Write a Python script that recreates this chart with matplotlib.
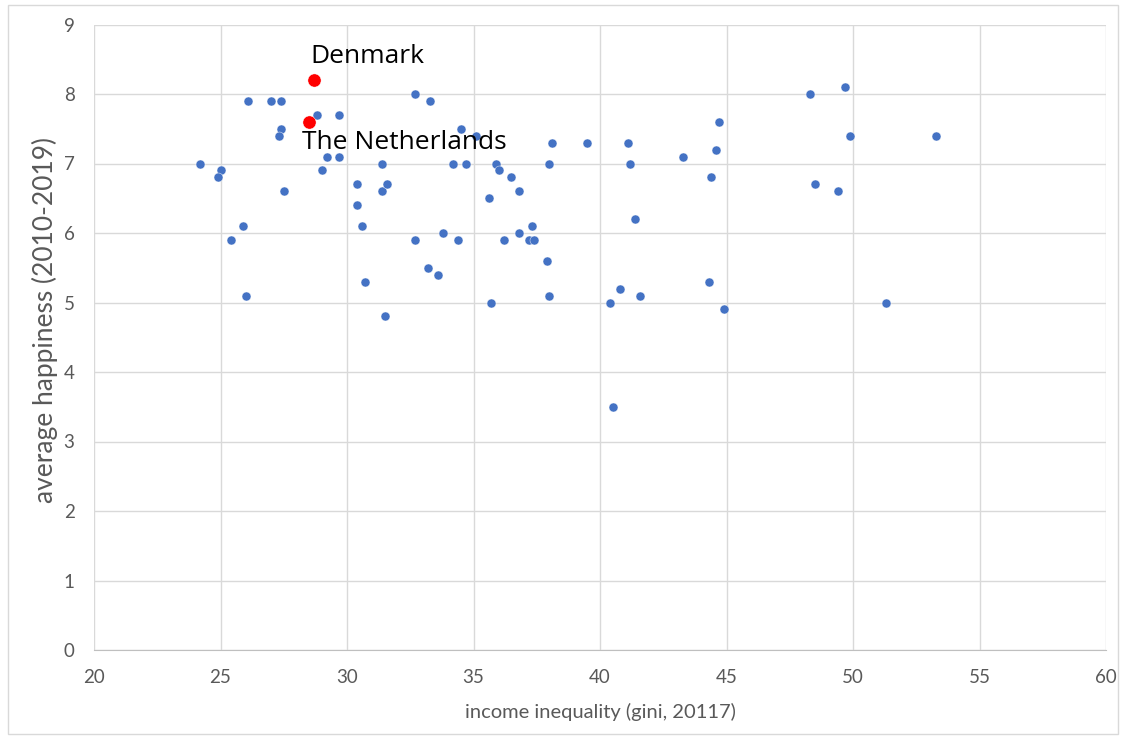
import matplotlib.pyplot as plt
from matplotlib.patches import Rectangle

# income inequality (gini) and average happiness per country
gini = [24.2, 25.0, 24.9, 25.4, 25.9, 26.0, 26.1, 27.0, 27.4, 27.4,
        27.3, 27.5, 28.8, 29.7, 29.2, 29.7, 29.0, 30.4, 30.4, 30.6,
        30.7, 31.4, 31.4, 31.6, 31.5, 32.7, 33.3, 32.7, 33.8, 33.2,
        33.6, 34.5, 35.1, 34.2, 34.7, 34.4, 35.9, 36.0, 36.5, 36.8,
        35.6, 36.2, 36.8, 37.3, 37.2, 37.4, 37.9, 38.0, 35.7, 38.1,
        38.0, 39.5, 41.1, 41.2, 41.4, 40.4, 40.8, 41.6, 40.5, 43.3,
        44.7, 44.6, 44.4, 44.3, 44.9, 48.3, 49.7, 49.9, 53.3, 48.5,
        49.4, 51.3]
happiness = [7.0, 6.9, 6.8, 5.9, 6.1, 5.1, 7.9, 7.9, 7.9, 7.5,
             7.4, 6.6, 7.7, 7.7, 7.1, 7.1, 6.9, 6.7, 6.4, 6.1,
             5.3, 7.0, 6.6, 6.7, 4.8, 8.0, 7.9, 5.9, 6.0, 5.5,
             5.4, 7.5, 7.4, 7.0, 7.0, 5.9, 7.0, 6.9, 6.8, 6.6,
             6.5, 5.9, 6.0, 6.1, 5.9, 5.9, 5.6, 5.1, 5.0, 7.3,
             7.0, 7.3, 7.3, 7.0, 6.2, 5.0, 5.2, 5.1, 3.5, 7.1,
             7.6, 7.2, 6.8, 5.3, 4.9, 8.0, 8.1, 7.4, 7.4, 6.7,
             6.6, 5.0]

# highlighted countries
hl_names = ["Denmark", "The Netherlands"]
hl_gini = [28.7, 28.5]
hl_happiness = [8.2, 7.6]
hl_label_pos = [(28.54, 8.54), (28.22, 7.3)]

x_ticks = [20, 25, 30, 35, 40, 45, 50, 55, 60]
y_ticks = [0, 1, 2, 3, 4, 5, 6, 7, 8, 9]

plt.rcParams['font.family'] = ['Lato', 'DejaVu Sans']

fig = plt.figure(figsize=(11.24, 7.38), dpi=100)
ax = fig.add_axes([94 / 1124, 1 - 650 / 738, (1106 - 94) / 1124, (650 - 24.5) / 738])

# thin chart frame
fig.patches.append(Rectangle((8 / 1124, 4 / 738), 1110 / 1124, 729 / 738,
                             transform=fig.transFigure, fill=False,
                             edgecolor='#d9d9d9', linewidth=1))

ax.scatter(gini, happiness, s=42, color='#4472C4', edgecolors='white',
           linewidths=0.3, zorder=3)
ax.scatter(hl_gini, hl_happiness, s=90, color='#FF0000', edgecolors='white',
           linewidths=0.3, zorder=4)
for name, (tx, ty) in zip(hl_names, hl_label_pos):
    ax.text(tx, ty, name, fontsize=19, color='black', va='center', ha='left',
            family=['Open Sans', 'DejaVu Sans'], zorder=5)

ax.set_xlim(20, 60)
ax.set_ylim(0, 9)
ax.set_xticks(x_ticks)
ax.set_yticks(y_ticks)
ax.grid(True, color='#d9d9d9', linewidth=1)
ax.set_axisbelow(True)
for side in ['top', 'right', 'left']:
    ax.spines[side].set_visible(False)
ax.spines['bottom'].set_color('#bfbfbf')
ax.tick_params(length=0, labelsize=13.5, labelcolor='#595959', pad=14)

ax.set_xlabel("income inequality (gini, 20117)", fontsize=14.5, color='#595959',
              labelpad=12)
ax.set_ylabel("average happiness (2010-2019)", fontsize=19, color='#595959')
ax.yaxis.set_label_coords(-0.036, 0.527)

fig.savefig("out.png", dpi=100)
